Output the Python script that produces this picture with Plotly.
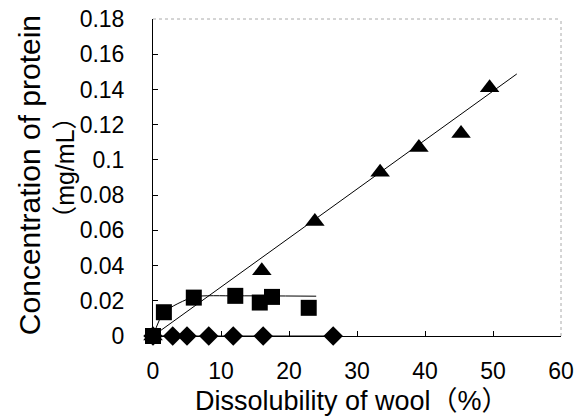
import plotly.graph_objects as go

# Data
tri_x = [0, 16.0, 23.8, 33.4, 39.1, 45.3, 49.5]
tri_y = [0, 0.037, 0.065, 0.093, 0.107, 0.115, 0.141]
tri_fit_x = [0, 53.5]
tri_fit_y = [0, 0.1488]

sq_x = [0, 1.6, 6.0, 12.1, 15.7, 17.5, 22.9]
sq_y = [0, 0.0135, 0.0218, 0.0228, 0.0190, 0.0222, 0.0160]
sq_fit_x = [0, 1.6, 6.0, 12.0, 24.0]
sq_fit_y = [0, 0.0135, 0.0222, 0.0228, 0.0226]

dia_x = [0, 2.9, 5.0, 8.2, 11.8, 16.2, 26.5]
dia_y = [0, 0, 0, 0, 0, 0, 0]

x_ticks = [0, 10, 20, 30, 40, 50, 60]
y_ticks = [0, 0.02, 0.04, 0.06, 0.08, 0.1, 0.12, 0.14, 0.16, 0.18]
y_tick_text = ["0", "0.02", "0.04", "0.06", "0.08", "0.1", "0.12", "0.14", "0.16", "0.18"]

x_title = "Dissolubility of wool（%）"
y_title_1 = "Concentration of protein"
y_title_2 = "（mg/mL）"

TICK_FONT = dict(family="Liberation Sans, Arial, sans-serif", size=23, color="black")
XTITLE_FONT = dict(family="Liberation Sans, Noto Sans CJK JP, sans-serif", size=27, color="black")
YTITLE_FONT = dict(family="Liberation Sans, Noto Sans CJK JP, sans-serif", size=30, color="black")
YSUB_FONT = dict(family="Liberation Sans, Noto Sans CJK JP, sans-serif", size=25, color="black")

fig = go.Figure()

fig.add_trace(go.Scatter(x=tri_fit_x, y=tri_fit_y, mode="lines",
                         line=dict(color="black", width=1), showlegend=False, hoverinfo="skip"))
fig.add_trace(go.Scatter(x=sq_fit_x, y=sq_fit_y, mode="lines",
                         line=dict(color="black", width=1, shape="spline", smoothing=0.6),
                         showlegend=False, hoverinfo="skip"))
fig.add_trace(go.Scatter(x=dia_x, y=dia_y, mode="lines+markers",
                         line=dict(color="black", width=1),
                         marker=dict(symbol="diamond", size=15, color="black"),
                         showlegend=False, cliponaxis=False))
fig.add_trace(go.Scatter(x=tri_x, y=tri_y, mode="markers",
                         marker=dict(symbol="triangle-up", size=17, color="black"),
                         showlegend=False, cliponaxis=False))
fig.add_trace(go.Scatter(x=sq_x, y=sq_y, mode="markers",
                         marker=dict(symbol="square", size=16, color="black"),
                         showlegend=False, cliponaxis=False))

fig.update_xaxes(range=[0, 60], tickvals=x_ticks, ticks="inside", ticklen=5,
                 tickcolor="black", showline=True, linecolor="black", linewidth=1,
                 showgrid=False, zeroline=False, tickfont=TICK_FONT,
                 ticklabelstandoff=14, automargin=False)
fig.update_yaxes(range=[0, 0.18], tickvals=y_ticks, ticktext=y_tick_text,
                 ticks="inside", ticklen=5, tickcolor="black", showline=True,
                 linecolor="black", linewidth=1, showgrid=False, zeroline=False,
                 tickfont=TICK_FONT, ticklabelstandoff=23, automargin=False)

# faint dotted top/right frame
fig.add_shape(type="line", xref="x domain", yref="y domain", x0=0, x1=1, y0=1, y1=1,
              line=dict(color="#aaaaaa", width=1, dash="dot"))
fig.add_shape(type="line", xref="x domain", yref="y domain", x0=1, x1=1, y0=0, y1=1,
              line=dict(color="#aaaaaa", width=1, dash="dot"))

fig.add_annotation(text=x_title, xref="paper", yref="paper", x=0.488, y=-0.205,
                   xanchor="center", yanchor="middle", showarrow=False, font=XTITLE_FONT)
fig.add_annotation(text=y_title_1, xref="paper", yref="paper", x=-0.301, y=0.508,
                   xanchor="center", yanchor="middle", textangle=-90, showarrow=False,
                   font=YTITLE_FONT)
fig.add_annotation(text=y_title_2, xref="paper", yref="paper", x=-0.216, y=0.53,
                   xanchor="center", yanchor="middle", textangle=-90, showarrow=False,
                   font=YSUB_FONT)

fig.update_layout(width=578, height=416, margin=dict(l=153, r=17, t=19, b=80),
                  paper_bgcolor="white", plot_bgcolor="white")

fig.write_html("out.html", post_script="document.body.style.margin='0';",
               config={"displayModeBar": False})
